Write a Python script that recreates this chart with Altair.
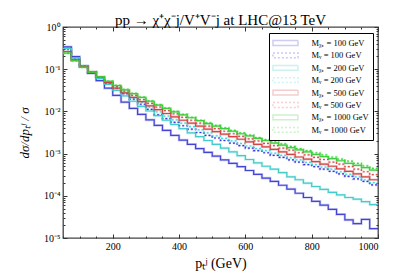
import altair as alt
import pandas as pd

# bin edges (GeV) of the pT^j histogram
edges = [50, 75, 100, 125, 150, 175, 200, 225, 250, 275, 300, 325, 350, 375, 400,
         425, 450, 475, 500, 525, 550, 575, 600, 625, 650, 675, 700, 725, 750, 775,
         800, 825, 850, 875, 900, 925, 950, 975, 1000]

# log10 of (1/sigma) dsigma/dpT per bin
log_chi100 = [-0.47, -0.70, -0.92, -1.10, -1.27, -1.45, -1.62, -1.78, -1.93, -2.07,
              -2.20, -2.33, -2.45, -2.57, -2.68, -2.78, -2.88, -2.97, -3.06, -3.15,
              -3.23, -3.31, -3.40, -3.49, -3.58, -3.66, -3.75, -3.84, -3.94, -4.04,
              -4.13, -4.22, -4.32, -4.44, -4.57, -4.66, -4.56, -4.78]
log_v100 = [-0.52, -0.74, -0.93, -1.08, -1.21, -1.33, -1.45, -1.58, -1.71, -1.83,
            -1.95, -2.08, -2.17, -2.26, -2.34, -2.42, -2.50, -2.57, -2.63, -2.69,
            -2.75, -2.81, -2.87, -2.93, -2.98, -3.04, -3.09, -3.15, -3.20, -3.26,
            -3.31, -3.37, -3.42, -3.48, -3.54, -3.60, -3.66, -3.74]
log_chi200 = [-0.51, -0.73, -0.93, -1.08, -1.22, -1.36, -1.50, -1.63, -1.76, -1.88,
              -1.99, -2.10, -2.21, -2.31, -2.41, -2.51, -2.60, -2.69, -2.78, -2.87,
              -2.96, -3.05, -3.14, -3.22, -3.30, -3.37, -3.45, -3.55, -3.62, -3.70,
              -3.78, -3.85, -3.92, -3.98, -4.04, -4.08, -4.14, -4.21]
log_v200 = [-0.51, -0.73, -0.92, -1.07, -1.20, -1.32, -1.44, -1.56, -1.68, -1.79,
            -1.90, -2.01, -2.11, -2.20, -2.28, -2.36, -2.44, -2.51, -2.58, -2.64,
            -2.70, -2.76, -2.82, -2.88, -2.93, -2.99, -3.04, -3.10, -3.15, -3.21,
            -3.26, -3.32, -3.37, -3.43, -3.49, -3.55, -3.62, -3.69]
log_chi500 = [-0.58, -0.78, -0.94, -1.07, -1.19, -1.32, -1.45, -1.56, -1.67, -1.77,
              -1.87, -1.96, -2.05, -2.13, -2.21, -2.28, -2.35, -2.42, -2.48, -2.54,
              -2.60, -2.66, -2.72, -2.78, -2.84, -2.90, -2.96, -3.02, -3.08, -3.13,
              -3.19, -3.25, -3.30, -3.36, -3.42, -3.48, -3.55, -3.62]
log_v500 = [-0.58, -0.78, -0.94, -1.07, -1.19, -1.30, -1.41, -1.52, -1.62, -1.72,
            -1.81, -1.90, -1.98, -2.06, -2.14, -2.21, -2.28, -2.35, -2.41, -2.47,
            -2.53, -2.59, -2.65, -2.70, -2.76, -2.81, -2.87, -2.92, -2.98, -3.03,
            -3.09, -3.14, -3.20, -3.25, -3.31, -3.37, -3.43, -3.50]
log_chi1000 = [-0.62, -0.80, -0.95, -1.07, -1.18, -1.29, -1.39, -1.49, -1.58, -1.67,
               -1.76, -1.85, -1.93, -2.01, -2.08, -2.15, -2.22, -2.29, -2.35, -2.41,
               -2.47, -2.53, -2.58, -2.64, -2.69, -2.75, -2.80, -2.86, -2.91, -2.96,
               -3.02, -3.07, -3.12, -3.17, -3.23, -3.28, -3.33, -3.39]
log_v1000 = [-0.62, -0.80, -0.95, -1.07, -1.18, -1.28, -1.38, -1.48, -1.57, -1.66,
             -1.75, -1.84, -1.92, -2.00, -2.07, -2.14, -2.21, -2.27, -2.33, -2.39,
             -2.45, -2.51, -2.56, -2.62, -2.67, -2.72, -2.77, -2.83, -2.88, -2.93,
             -2.98, -3.03, -3.08, -3.13, -3.18, -3.23, -3.29, -3.35]

labels = ["Mᵪ₊ = 100 GeV", "Mᵥ = 100 GeV", "Mᵪ₊ = 200 GeV", "Mᵥ = 200 GeV",
          "Mᵪ₊ = 500 GeV", "Mᵥ = 500 GeV", "Mᵪ₊ = 1000 GeV", "Mᵥ = 1000 GeV"]
series = [log_chi100, log_v100, log_chi200, log_v200,
          log_chi500, log_v500, log_chi1000, log_v1000]

colors = ["#3c3cd2", "#2c2ce0", "#3cc8c8", "#3cd8d8",
          "#d23c3c", "#d84848", "#3cc83c", "#30d830"]
dashes = [[1, 0], [2, 2], [1, 0], [2, 2], [1, 0], [2, 2], [1, 0], [2, 2]]

rows = []
for name, logs in zip(labels, series):
    for i, e in enumerate(edges):
        v = logs[min(i, len(logs) - 1)]
        rows.append({"pt": e, "val": 10 ** v, "series": name})
df = pd.DataFrame(rows)

FONT = "Liberation Serif"
TICK = "#333333"

xscale = alt.Scale(domain=[50, 1000], nice=False, zero=False)
yscale = alt.Scale(type="log", domain=[1e-5, 1], nice=False)

x_major = [200, 400, 600, 800, 1000]
x_minor = list(range(50, 1001, 50))
y_major = [1, 0.1, 0.01, 0.001, 0.0001, 0.00001]
y_minor = [k * 10.0 ** e for e in range(-5, 0) for k in range(2, 10)]

sup = "'10' + ['⁰','⁻¹','⁻²','⁻³','⁻⁴','⁻⁵'][round(-log(datum.value)/LN10)]"

legend = alt.Legend(
    title=None, orient="none", legendX=206, legendY=6,
    fillColor="white", strokeColor="black", cornerRadius=0,
    padding=4, symbolType="M-2.5,-0.48H2.5V0.48H-2.5Z", symbolSize=100,
    symbolStrokeWidth=1.5, symbolOffset=6.5, labelOffset=20,
    labelFont=FONT, labelFontSize=8.5, labelColor="black", rowPadding=0.4,
    symbolFillColor="transparent",
)
color = alt.Color("series:N", scale=alt.Scale(domain=labels, range=colors), legend=legend)
dash = alt.StrokeDash("series:N", scale=alt.Scale(domain=labels, range=dashes), legend=legend)

base = alt.Chart(df)

halo = base.mark_line(interpolate="step-after", strokeWidth=2.6, opacity=0.25).encode(
    x=alt.X("pt:Q", scale=xscale, axis=None),
    y=alt.Y("val:Q", scale=yscale, axis=None),
    color=color, strokeDash=dash,
)

core = base.mark_line(interpolate="step-after", strokeWidth=1.2, opacity=0.95).encode(
    x=alt.X("pt:Q", scale=xscale, axis=alt.Axis(
        orient="bottom", values=x_major, format="d", tickSize=4, offset=-4,
        tickColor=TICK, domain=False, grid=False, labelFont=FONT, labelFontSize=10,
        labelColor="black", labelPadding=3, title="pₜʲ (GeV)", titleFont=FONT,
        titleFontSize=14, titleFontWeight="normal", titleColor="black", titlePadding=5)),
    y=alt.Y("val:Q", scale=yscale, axis=alt.Axis(
        orient="left", values=y_major, tickSize=4, offset=-4, tickColor=TICK,
        domain=False, grid=False, labelExpr=sup, labelFont=FONT, labelFontSize=10,
        labelColor="black", labelPadding=3, labelFlush=False, labelOverlap=False,
        title="dσ/dpₜʲ / σ", titleFont=FONT, titleFontSize=13, titleFontStyle="italic",
        titleFontWeight="normal", titleColor="black", titlePadding=12)),
    color=color, strokeDash=dash,
)

def tick_layer(xorient, xvals, xsize, yorient, yvals, ysize):
    return base.mark_point(opacity=0).encode(
        x=alt.X("pt:Q", scale=xscale, axis=alt.Axis(
            orient=xorient, values=xvals, tickSize=xsize, offset=-xsize, tickColor=TICK,
            domain=False, grid=False, labels=False, title=None)),
        y=alt.Y("val:Q", scale=yscale, axis=alt.Axis(
            orient=yorient, values=yvals, tickSize=ysize, offset=-ysize, tickColor=TICK,
            domain=False, grid=False, labels=False, title=None)),
    )

l2 = tick_layer("bottom", x_minor, 2, "left", y_minor, 2)
l3 = tick_layer("top", x_major, 4, "right", y_major, 4)
l4 = tick_layer("top", x_minor, 2, "right", y_minor, 2)

chart = alt.layer(halo, core, l2, l3, l4).resolve_axis(
    x="independent", y="independent"
).properties(
    width=315, height=211,
    autosize=alt.AutoSizeParams(type="none"),
    padding={"left": 55, "top": 19, "right": 34, "bottom": 35},
    title=alt.TitleParams("pp → χ⁺χ⁻j/V⁺V⁻j at LHC@13 TeV", font=FONT, fontSize=15,
                          fontWeight="normal", color="black", anchor="middle",
                          offset=4, dy=10),
).configure_view(stroke="#444444", strokeWidth=1.3)

chart.save("out.html", embed_options={"renderer": "svg", "actions": False})
